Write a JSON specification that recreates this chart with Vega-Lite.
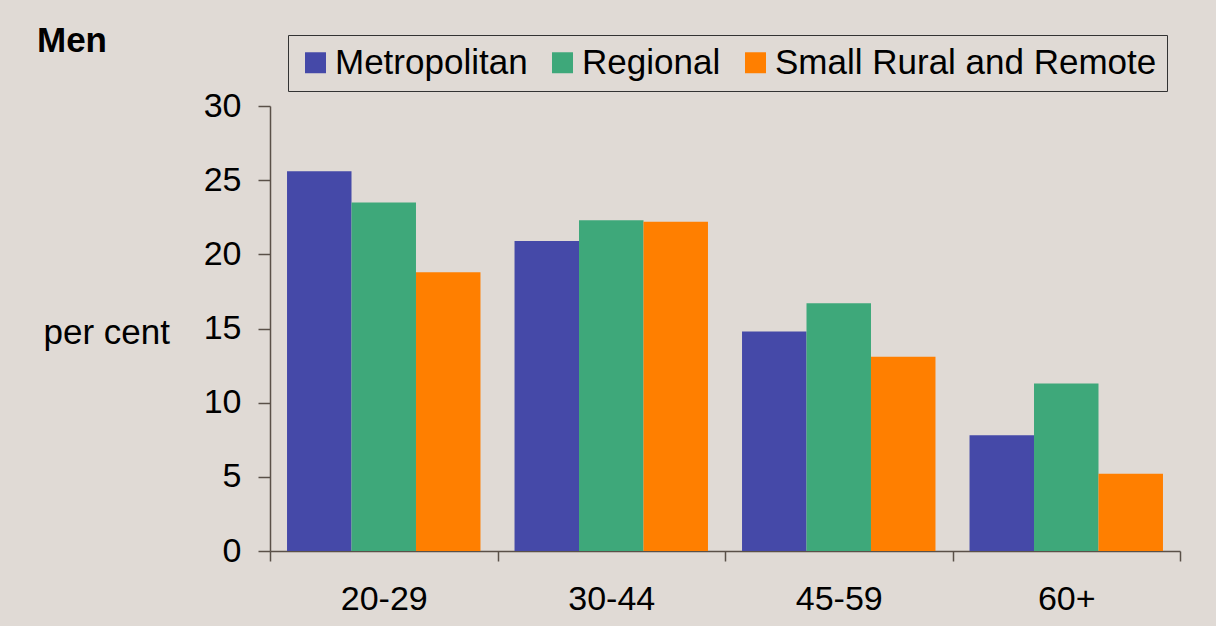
{
  "$schema": "https://vega.github.io/schema/vega-lite/v6.json",
  "width": 910,
  "height": 445,
  "autosize": "none",
  "padding": {"left": 270, "top": 106, "right": 36, "bottom": 75},
  "background": "#E0DAD5",
  "title": {
    "text": "Men",
    "anchor": "start",
    "frame": "group",
    "font": "Liberation Sans",
    "fontSize": 35,
    "fontWeight": "bold",
    "color": "#000000",
    "dx": -233,
    "dy": 24,
    "offset": 0
  },
  "data": {
    "values": [
      {"age": "20-29", "region": "Metropolitan", "value": 25.6},
      {"age": "20-29", "region": "Regional", "value": 23.5},
      {"age": "20-29", "region": "Small Rural and Remote", "value": 18.8},
      {"age": "30-44", "region": "Metropolitan", "value": 20.9},
      {"age": "30-44", "region": "Regional", "value": 22.3},
      {"age": "30-44", "region": "Small Rural and Remote", "value": 22.2},
      {"age": "45-59", "region": "Metropolitan", "value": 14.8},
      {"age": "45-59", "region": "Regional", "value": 16.7},
      {"age": "45-59", "region": "Small Rural and Remote", "value": 13.1},
      {"age": "60+", "region": "Metropolitan", "value": 7.8},
      {"age": "60+", "region": "Regional", "value": 11.3},
      {"age": "60+", "region": "Small Rural and Remote", "value": 5.2}
    ]
  },
  "mark": {"type": "bar"},
  "encoding": {
    "x": {
      "field": "age",
      "type": "nominal",
      "sort": ["20-29", "30-44", "45-59", "60+"],
      "scale": {"paddingInner": 0, "paddingOuter": 0},
      "axis": {
        "title": null,
        "labelAngle": 0,
        "tickBand": "extent",
        "tickSize": 10,
        "tickColor": "#5a5048",
        "tickWidth": 1.5,
        "domainColor": "#5a5048",
        "domainWidth": 1.5,
        "labelFont": "Liberation Sans",
        "labelFontSize": 34,
        "labelColor": "#000000",
        "labelPadding": 21
      }
    },
    "xOffset": {
      "field": "region",
      "type": "nominal",
      "sort": ["Metropolitan", "Regional", "Small Rural and Remote"],
      "scale": {"paddingInner": 0, "paddingOuter": 0.264}
    },
    "y": {
      "field": "value",
      "type": "quantitative",
      "scale": {"domain": [0, 30], "nice": false},
      "axis": {
        "values": [0, 5, 10, 15, 20, 25, 30],
        "grid": false,
        "tickSize": 12,
        "tickColor": "#5a5048",
        "tickWidth": 1.5,
        "domainColor": "#5a5048",
        "domainWidth": 1.5,
        "labelFont": "Liberation Sans",
        "labelFontSize": 34,
        "labelColor": "#000000",
        "labelPadding": 17,
        "title": "per cent",
        "titleAngle": 0,
        "titleAlign": "left",
        "titleBaseline": "middle",
        "titleX": -227,
        "titleY": 226,
        "titleFont": "Liberation Sans",
        "titleFontSize": 35,
        "titleFontWeight": "normal",
        "titleColor": "#000000"
      }
    },
    "color": {
      "field": "region",
      "type": "nominal",
      "sort": ["Metropolitan", "Regional", "Small Rural and Remote"],
      "scale": {
        "domain": ["Metropolitan", "Regional", "Small Rural and Remote"],
        "range": ["#4549A8", "#3EA87A", "#FF7F00"]
      },
      "legend": {
        "orient": "none",
        "legendX": 18,
        "legendY": -71,
        "direction": "horizontal",
        "title": null,
        "symbolType": "square",
        "symbolSize": 440,
        "symbolStrokeWidth": 0,
        "labelFont": "Liberation Sans",
        "labelFontSize": 35,
        "labelColor": "#000000",
        "labelLimit": 600,
        "labelOffset": 2,
        "columnPadding": 17,
        "padding": 10,
        "strokeColor": "#333333",
        "fillColor": "#E0DAD5"
      }
    }
  },
  "config": {
    "view": {"stroke": null}
  }
}
